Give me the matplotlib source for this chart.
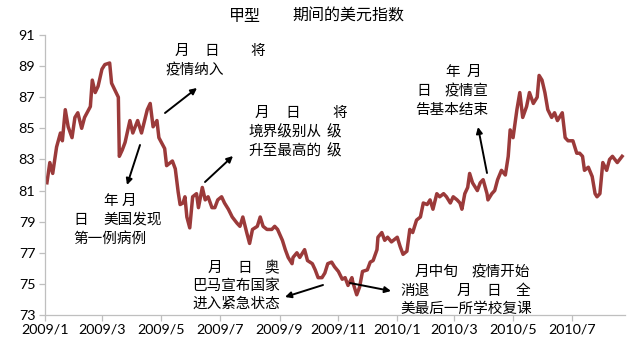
import matplotlib
matplotlib.use("Agg")
import matplotlib.pyplot as plt
import matplotlib.dates as mdates
import pandas as pd

plt.rcParams['font.family'] = ['Noto Sans CJK SC', 'DejaVu Sans']

# ---- data ----
title_left = "甲型"
title_right = "期间的美元指数"

# day offsets from 2009-01-01 and dollar index values
days = [2, 5, 8, 12, 16, 18, 21, 24, 28, 31, 34, 38, 41, 47, 49, 52, 55, 59, 62, 67,
        69, 76, 77, 80, 83, 88, 91, 96, 100, 106, 109, 112, 116, 118, 124, 126, 132, 135, 138, 140,
        143, 145, 147, 150, 153, 157, 159, 163, 166, 169, 173, 176, 179, 183, 186, 190, 194, 199, 202, 205,
        209, 212, 215, 220, 223, 226, 230, 235, 238, 241, 246, 249, 252, 256, 257, 261, 264, 269, 272, 277,
        280, 283, 287, 290, 293, 297, 300, 304, 308, 311, 314, 318, 319, 323, 326, 329, 334, 337, 340, 344,
        345, 349, 352, 355, 359, 365, 368, 371, 375, 378, 381, 385, 389, 392, 396, 399, 402, 406, 409, 413,
        416, 420, 423, 427, 430, 432, 435, 438, 440, 443, 448, 451, 454, 458, 459, 463, 466, 469, 473, 477,
        480, 482, 485, 489, 492, 495, 499, 502, 506, 510, 512, 515, 518, 521, 525, 528, 531, 536, 539, 542,
        547, 551, 554, 557, 559, 563, 567, 570, 572, 575, 578, 582, 585, 588, 593, 598]
values = [81.5, 82.8, 82.1, 83.8, 84.7, 84.2, 86.2, 85.1, 84.4, 85.7, 86.0, 85.0, 85.7, 86.4, 88.1, 87.3, 87.7, 88.8, 89.1, 89.2,
          87.9, 87.0, 83.2, 83.6, 84.1, 85.5, 84.7, 85.5, 84.7, 86.2, 86.6, 85.1, 85.5, 84.4, 83.7, 82.6, 82.9, 82.4, 80.9, 80.1,
          80.2, 80.6, 79.3, 78.6, 80.6, 80.8, 79.9, 81.2, 80.4, 80.6, 79.9, 79.9, 80.4, 80.6, 80.2, 79.8, 79.3, 78.9, 78.7, 79.3,
          78.3, 77.6, 78.5, 78.7, 79.3, 78.7, 78.5, 78.5, 78.7, 78.5, 77.8, 77.2, 76.7, 76.3, 76.7, 77.0, 76.7, 77.2, 76.5, 76.3,
          75.9, 75.4, 75.4, 75.7, 76.3, 76.4, 76.1, 75.8, 75.3, 75.4, 74.9, 75.4, 75.1, 74.3, 74.8, 75.8, 75.9, 76.4, 76.5, 77.2,
          78.0, 78.3, 77.8, 78.0, 77.7, 78.0, 77.4, 76.9, 77.1, 78.5, 78.3, 79.1, 79.3, 80.2, 80.1, 80.4, 79.8, 80.8, 80.6, 80.8,
          80.6, 80.2, 80.6, 80.4, 80.2, 79.8, 80.8, 81.2, 82.1, 81.5, 81.0, 81.5, 81.7, 80.8, 80.4, 80.8, 81.0, 81.7, 82.3, 82.0,
          83.2, 84.9, 84.4, 86.2, 87.3, 85.7, 86.4, 87.3, 86.6, 87.0, 88.4, 88.1, 87.3, 86.2, 85.7, 86.0, 85.5, 86.0, 84.4, 84.2,
          84.2, 83.4, 83.4, 83.2, 82.3, 82.5, 81.9, 80.8, 80.6, 80.8, 82.8, 82.3, 83.0, 83.2, 82.8, 83.2]

y_ticks = [73, 75, 77, 79, 81, 83, 85, 87, 89, 91]
x_tick_labels = ["2009/1", "2009/3", "2009/5", "2009/7", "2009/9", "2009/11",
                 "2010/1", "2010/3", "2010/5", "2010/7"]

dates = pd.Timestamp("2009-01-01") + pd.to_timedelta(days, unit="D")
x_ticks = pd.to_datetime([s.replace("/", "-") + "-01" for s in x_tick_labels])

# ---- figure ----
W, H = 640, 341
fig = plt.figure(figsize=(W / 100, H / 100), dpi=100)
ax = fig.add_axes([45 / W, 1 - 315 / H, (625 - 45) / W, (315 - 35) / H])

ax.plot(dates, values, color="#9B3A3A", lw=2.5, solid_joinstyle="round")
ax.set_xlim(pd.Timestamp("2009-01-01"), pd.Timestamp("2010-08-25"))
ax.set_ylim(73, 91)
ax.set_yticks(y_ticks)
ax.set_xticks(x_ticks)
ax.set_xticklabels(x_tick_labels)

for s in ["top", "right"]:
    ax.spines[s].set_visible(False)
for s in ["left", "bottom"]:
    ax.spines[s].set_color("#BFBFBF")
    ax.spines[s].set_linewidth(0.9)
ax.tick_params(axis="both", colors="#BFBFBF", length=4, width=0.9, direction="out",
               labelcolor="black", labelsize=10.3, pad=2)
ax.tick_params(axis="y", pad=3)
for lab in ax.get_xticklabels() + ax.get_yticklabels():
    lab.set_family(["Lato", "DejaVu Sans"])

# ---- title ----
def fx(x):
    return x / W

def fy(y):
    return 1 - y / H

fig.text(fx(229), fy(16), title_left, fontsize=11.5, va="center", ha="left")
fig.text(fx(292), fy(16), title_right, fontsize=11.5, va="center", ha="left")

# ---- annotation texts: (x_left, y_center, text) in image pixels ----
fs = 10.5
pieces = [
    (175, 51, "月"), (204, 51, "日"), (250, 51, "将"),
    (166, 70, "疫情纳入"),
    (255, 113, "月"), (285, 113, "日"), (332, 113, "将"),
    (248, 132, "境界级别从"), (327, 132, "级"),
    (248, 151, "升至最高的"), (327, 151, "级"),
    (103, 201, "年"), (122, 201, "月"),
    (73, 220, "日"), (103, 220, "美国发现"),
    (73, 239, "第一例病例"),
    (208, 268, "月"), (237, 268, "日"), (264, 268, "奥"),
    (192, 286, "巴马宣布国家"),
    (192, 304, "进入紧急状态"),
    (415, 272, "月中旬"), (472, 272, "疫情开始"),
    (400, 291, "消退"), (457, 291, "月"), (486, 291, "日"), (516, 291, "全"),
    (400, 309, "美最后一所学校复课"),
    (445, 72, "年"), (467, 72, "月"),
    (416, 91, "日"), (445, 91, "疫情宣"),
    (415, 110, "告基本结束"),
]
for x, y, s in pieces:
    fig.text(fx(x), fy(y), s, fontsize=fs, va="center", ha="left", color="black")

# ---- arrows: (tail_x, tail_y, head_x, head_y) in image pixels ----
arrows = [
    (165, 113, 197, 88),
    (205, 182, 233, 156),
    (140, 145, 127, 185),
    (323, 285, 285, 297),
    (350, 283, 391, 291),
    (487, 173, 478, 127),
]
for tx, ty, hx, hy in arrows:
    fig.add_artist(matplotlib.patches.FancyArrowPatch(
        (tx, H - ty), (hx, H - hy), transform=None,
        arrowstyle="-|>", mutation_scale=9, lw=1.4, color="black",
        shrinkA=0, shrinkB=0))

fig.savefig("out.png", dpi=100)
